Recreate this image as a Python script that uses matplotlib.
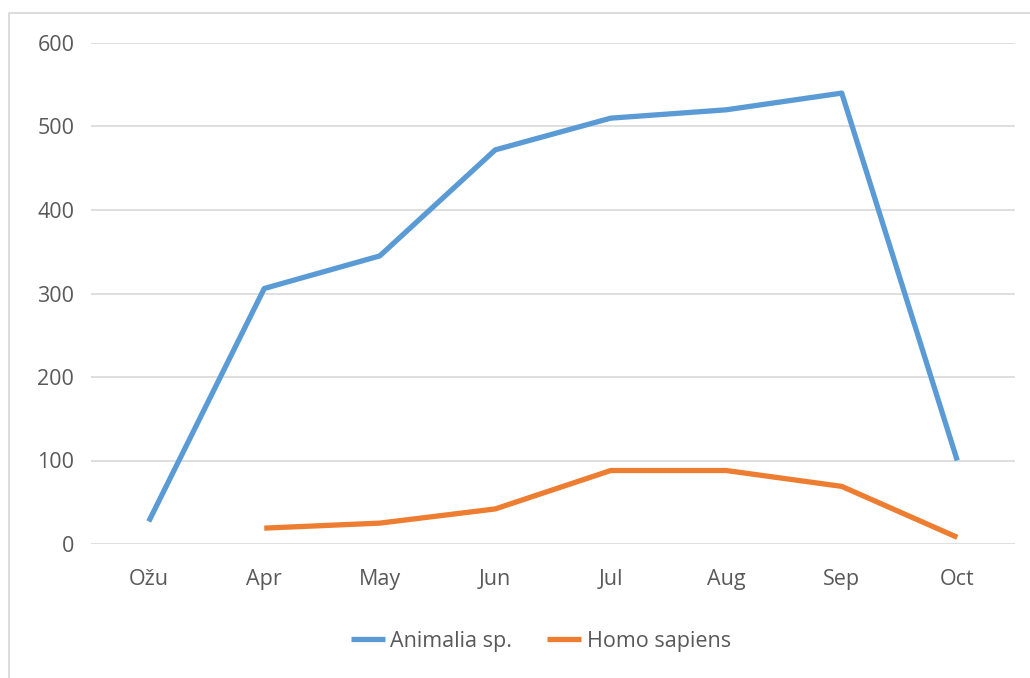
import matplotlib
matplotlib.use("Agg")
import matplotlib.pyplot as plt
from matplotlib.lines import Line2D
import numpy as np

months = ["Ožu", "Apr", "May", "Jun", "Jul", "Aug", "Sep", "Oct"]
animalia = [27, 306, 345, 472, 510, 520, 540, 100]
homo = [np.nan, 19, 25, 42, 88, 88, 69, 8]

plt.rcParams["font.family"] = ["Open Sans", "DejaVu Sans"]
txt = "#595959"

fig = plt.figure(figsize=(10.3, 6.78), dpi=100)
# chart frame, only left and top edges are visible in the crop
fx, fy = 8.5 / 1030, 1 - 12.5 / 678
fig.lines.append(Line2D([fx, fx, 1], [0, fy, fy], transform=fig.transFigure,
                        color="#d9d9d9", lw=1.3))
ax = fig.add_axes([91 / 1030, 134 / 678, 924 / 1030, 501 / 678])

x = np.arange(len(months))
ax.plot(x, animalia, color="#5b9bd5", lw=3.8, label="Animalia sp.", solid_capstyle="butt")
ax.plot(x, homo, color="#ed7d31", lw=3.8, label="Homo sapiens", solid_capstyle="butt")

ax.set_xlim(-0.5, len(months) - 0.5)
ax.set_ylim(0, 600)
ax.set_yticks(range(0, 601, 100))
ax.set_xticks(x)
ax.set_xticklabels(months)
ax.grid(axis="y", color="#d9d9d9", lw=1.2)
ax.set_axisbelow(True)
for s in ax.spines.values():
    s.set_visible(False)
ax.tick_params(length=0, labelsize=15.5, colors=txt)
ax.tick_params(axis="x", pad=18)
ax.tick_params(axis="y", pad=12)

leg = fig.legend(loc="center", bbox_to_anchor=(0.525, 1 - 641 / 678), ncol=2,
                 frameon=False, fontsize=15.5, handlelength=1.6, columnspacing=1.6,
                 handletextpad=0.25)
for t in leg.get_texts():
    t.set_color(txt)

fig.savefig("out.png", dpi=100)
